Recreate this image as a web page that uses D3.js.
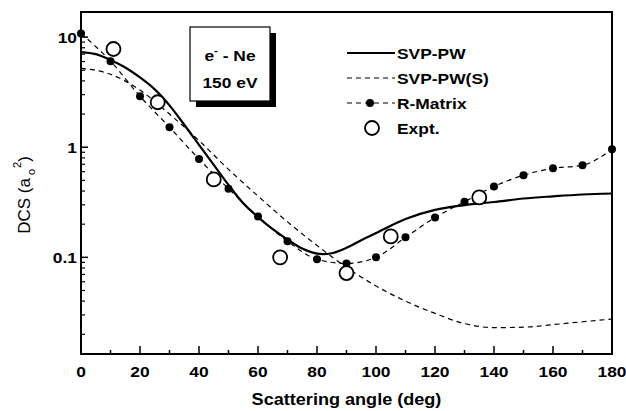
<!DOCTYPE html>
<html>
<head>
<meta charset="utf-8">
<script src="https://cdn.jsdelivr.net/npm/d3@7"></script>
<style>
  body { margin: 0; background: #fff; }
  svg { font-family: "Liberation Sans", Arial, sans-serif; }
</style>
</head>
<body>
<div id="chart"></div>
<script>
// Angles (deg) at which the curves are sampled
const angles = [0, 10, 20, 30, 40, 50, 60, 70, 80, 90, 100, 110, 120, 130, 140, 150, 160, 170, 180];

// SVP-PW (solid)
const svpAngles = [0, 5, 10, 15, 20, 25, 30, 35, 40, 45, 50, 55, 60, 65, 70, 75, 80, 85, 90, 95, 100, 110, 120, 130, 140, 150, 160, 170, 180];
const svpValues = [7.3, 7.0, 6.2, 5.3, 4.3, 3.35, 2.4, 1.6, 1.05, 0.69, 0.455, 0.31, 0.232, 0.18, 0.145, 0.12, 0.108, 0.109, 0.122, 0.143, 0.166, 0.223, 0.27, 0.298, 0.318, 0.342, 0.358, 0.372, 0.38];

// SVP-PW(S) (dashed)
const svpsValues = [5.2, 4.6, 3.3, 2.0, 1.15, 0.63, 0.36, 0.21, 0.128, 0.081, 0.055, 0.04, 0.031, 0.025, 0.023, 0.0232, 0.0245, 0.026, 0.0275];

// R-Matrix (dashed with dots)
const rmatValues = [10.8, 6.05, 2.9, 1.52, 0.78, 0.42, 0.235, 0.14, 0.096, 0.088, 0.1, 0.152, 0.23, 0.32, 0.44, 0.557, 0.644, 0.686, 0.96];

// Experiment (open circles)
const exptAngles = [11, 26, 45, 67.5, 90, 105, 135];
const exptValues = [7.8, 2.56, 0.51, 0.1, 0.072, 0.155, 0.35];

const xTicks = [0, 20, 40, 60, 80, 100, 120, 140, 160, 180];
const xMinor = [10, 30, 50, 70, 90, 110, 130, 150, 170];
const yTicks = [0.1, 1, 10];
const yTickLabels = ['0.1', '1', '10'];

const W = 626, H = 411;
const margin = { top: 12, right: 14, bottom: 57, left: 81 };
const width = W - margin.left - margin.right;
const height = H - margin.top - margin.bottom;
const SX = 1.13; // the original lettering is a bit wide

const svg = d3.select('#chart').append('svg')
  .attr('width', W)
  .attr('height', H);

// text helper: places text at (x, y) with a slight horizontal stretch
function label(parent, x, y, str, size, weight, anchor) {
  return parent.append('text')
    .attr('transform', `translate(${x},${y}) scale(${SX},1)`)
    .attr('text-anchor', anchor || 'start')
    .attr('font-size', size)
    .attr('font-weight', weight || 'bold')
    .text(str);
}

const g = svg.append('g')
  .attr('transform', `translate(${margin.left},${margin.top})`);

const x = d3.scaleLinear().domain([0, 180]).range([0, width]);
const y = d3.scaleLog().domain([0.01325, 16.9]).range([height, 0]);

g.append('clipPath').attr('id', 'clip')
  .append('rect').attr('width', width).attr('height', height);

// Frame
g.append('rect')
  .attr('width', width).attr('height', height)
  .attr('fill', 'none').attr('stroke', '#000').attr('stroke-width', 2);

// X axis ticks (inward)
const xAxis = g.append('g').attr('transform', `translate(0,${height})`);
xAxis.selectAll('.maj').data(xTicks).enter().append('line')
  .attr('x1', d => x(d)).attr('x2', d => x(d))
  .attr('y1', 0).attr('y2', -8)
  .attr('stroke', '#000').attr('stroke-width', 1.5);
xAxis.selectAll('.min').data(xMinor).enter().append('line')
  .attr('x1', d => x(d)).attr('x2', d => x(d))
  .attr('y1', 0).attr('y2', -4)
  .attr('stroke', '#000').attr('stroke-width', 1.5);
xTicks.forEach(d => label(xAxis, x(d), 23, d, 15.4, 'bold', 'middle'));

// Y axis ticks (inward)
const yMinor = [];
[0.01, 0.1, 1].forEach(base => {
  for (let k = 2; k <= 9; k++) {
    const v = base * k;
    if (v > y.domain()[0] && v < y.domain()[1]) yMinor.push(v);
  }
});
const yAxis = g.append('g');
yAxis.selectAll('.maj').data(yTicks).enter().append('line')
  .attr('x1', 0).attr('x2', 7)
  .attr('y1', d => y(d)).attr('y2', d => y(d))
  .attr('stroke', '#000').attr('stroke-width', 1.5);
yAxis.selectAll('.min').data(yMinor).enter().append('line')
  .attr('x1', 0).attr('x2', 4)
  .attr('y1', d => y(d)).attr('y2', d => y(d))
  .attr('stroke', '#000').attr('stroke-width', 1.2);
yTicks.forEach((d, i) => label(yAxis, -4, y(d) + 5.5, yTickLabels[i], 15.4, 'bold', 'end'));

// Axis titles
label(svg, margin.left + width / 2, 405, 'Scattering angle (deg)', 16, 'bold', 'middle');

const yt = svg.append('text')
  .attr('transform', 'translate(30,195) rotate(-90)')
  .attr('text-anchor', 'middle')
  .attr('font-size', 17);
yt.append('tspan').text('DCS (a');
yt.append('tspan').attr('dx', 3).attr('dy', 5).attr('font-size', 11).text('o');
yt.append('tspan').attr('dx', 1).attr('dy', -14).attr('font-size', 11).text('2');
yt.append('tspan').attr('dy', 9).text(')');

// Curves
const line = d3.line()
  .x(d => x(d[0]))
  .y(d => y(d[1]))
  .curve(d3.curveMonotoneX);

const curves = g.append('g').attr('clip-path', 'url(#clip)');

curves.append('path')
  .datum(d3.zip(angles, svpsValues))
  .attr('fill', 'none').attr('stroke', '#000')
  .attr('stroke-width', 1.2).attr('stroke-dasharray', '5,4')
  .attr('d', line);

curves.append('path')
  .datum(d3.zip(angles, rmatValues))
  .attr('fill', 'none').attr('stroke', '#000')
  .attr('stroke-width', 1.2).attr('stroke-dasharray', '5,4')
  .attr('d', line);

curves.append('path')
  .datum(d3.zip(svpAngles, svpValues))
  .attr('fill', 'none').attr('stroke', '#000')
  .attr('stroke-width', 2.2)
  .attr('d', line.curve(d3.curveCatmullRom.alpha(0.5)));

// R-Matrix dots
g.selectAll('.dot').data(d3.zip(angles, rmatValues)).enter().append('circle')
  .attr('cx', d => x(d[0])).attr('cy', d => y(d[1]))
  .attr('r', 4).attr('fill', '#000');

// Expt open circles
g.selectAll('.expt').data(d3.zip(exptAngles, exptValues)).enter().append('circle')
  .attr('cx', d => x(d[0])).attr('cy', d => y(d[1]))
  .attr('r', 7).attr('fill', '#fff').attr('stroke', '#000').attr('stroke-width', 1.8);

// Inset label box with shadow
const box = svg.append('g').attr('transform', 'translate(190,27)');
box.append('rect').attr('x', 6).attr('y', 6).attr('width', 80).attr('height', 74).attr('fill', '#000');
box.append('rect').attr('width', 80).attr('height', 74)
  .attr('fill', '#fff').attr('stroke', '#000').attr('stroke-width', 1.2);
const t1 = box.append('text')
  .attr('transform', `translate(40,34) scale(${SX},1)`)
  .attr('text-anchor', 'middle').attr('font-size', 15.4).attr('font-weight', 'bold');
t1.append('tspan').text('e');
t1.append('tspan').attr('dy', -7).attr('font-size', 10).text('-');
t1.append('tspan').attr('dy', 7).text(' - Ne');
label(box, 40, 61, '150 eV', 15.4, 'bold', 'middle');

// Legend
const legendItems = [
  { label: 'SVP-PW', type: 'solid' },
  { label: 'SVP-PW(S)', type: 'dash' },
  { label: 'R-Matrix', type: 'dashdot' },
  { label: 'Expt.', type: 'circle' }
];
const legend = svg.append('g').attr('transform', 'translate(347,53)');
legendItems.forEach((it, i) => {
  const row = legend.append('g').attr('transform', `translate(0,${i * 25})`);
  if (it.type === 'solid') {
    row.append('line').attr('x1', 0).attr('x2', 48).attr('stroke', '#000').attr('stroke-width', 2);
  } else if (it.type === 'dash' || it.type === 'dashdot') {
    row.append('line').attr('x1', 0).attr('x2', 48).attr('stroke', '#000')
      .attr('stroke-width', 1.2).attr('stroke-dasharray', '5,4');
    if (it.type === 'dashdot') row.append('circle').attr('cx', 23).attr('r', 4).attr('fill', '#000');
  } else {
    row.append('circle').attr('cx', 25).attr('r', 7)
      .attr('fill', '#fff').attr('stroke', '#000').attr('stroke-width', 1.8);
  }
  label(row, 50, 5.5, it.label, 15.4, 'bold', 'start');
});
</script>
</body>
</html>
